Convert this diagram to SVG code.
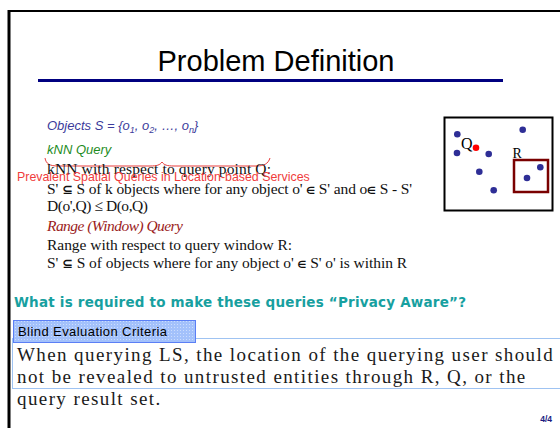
<svg xmlns="http://www.w3.org/2000/svg" width="560" height="428" viewBox="0 0 560 428">
  <style>
    .sans { font-family: "Liberation Sans", Arial, sans-serif; }
    .serif { font-family: "Liberation Serif", "Times New Roman", serif; }
    .body { font-family: "Liberation Serif", "Times New Roman", serif; font-size: 15.5px; fill: #111; }
    .sym { font-family: "DejaVu Sans", sans-serif; font-weight: bold; }
    .dot { fill: #2e2e96; }
    .big { font-family: "Liberation Serif", "Times New Roman", serif; font-size: 19px; fill: #1a1a1a; letter-spacing: 1.4px; }
  </style>
  <defs>
    <pattern id="grid" width="3" height="3" patternUnits="userSpaceOnUse">
      <rect width="3" height="3" fill="#a3c1fb"/>
      <rect width="1" height="1" fill="#ffffff" fill-opacity="0.45"/>
    </pattern>
  </defs>
  <rect width="560" height="428" fill="#ffffff"/>

  <g id="frame">
    <line x1="9" y1="10" x2="9" y2="428" stroke="#000" stroke-width="3"/>
    <line x1="8" y1="11" x2="560" y2="11" stroke="#000" stroke-width="2"/>
  </g>

  <g id="title">
    <text x="276" y="71" class="sans" font-size="29" text-anchor="middle" fill="#000">Problem Definition</text>
    <line x1="38" y1="80.5" x2="503" y2="80.5" stroke="#000080" stroke-width="3"/>
  </g>

  <g id="definitions">
    <text x="47" y="130" class="sans" font-size="13" font-style="italic" fill="#3b3b9b">Objects S = {o<tspan font-size="9" dy="3">1</tspan><tspan dy="-3">, o</tspan><tspan font-size="9" dy="3">2</tspan><tspan dy="-3">, …, o</tspan><tspan font-size="9" dy="3">n</tspan><tspan dy="-3">}</tspan></text>
    <text x="47" y="154" class="sans" font-size="13" font-style="italic" fill="#1e8c1e">kNN Query</text>
    <path d="M45,158 C46,164 50,166 58,166 L150,166 C157,166 160,165 162,162 C164,165 167,166 174,166 L256,166 C264,166 268,164 270,158" fill="none" stroke="#e83c3c" stroke-width="1"/>
    <text x="47" y="174" class="body" textLength="224" lengthAdjust="spacing">kNN with respect to query point Q:</text>
    <text x="17" y="181" class="sans" font-size="12.4" fill="#f03c3c">Prevalent Spatial Queries in Location-based Services</text>
    <text x="47" y="194" class="body" textLength="365" lengthAdjust="spacing">S' <tspan class="sym" font-size="13">⊆</tspan> S of k objects where for any object o' <tspan class="sym" font-size="10">∈</tspan> S' and o<tspan class="sym" font-size="10">∈</tspan> S - S'</text>
    <text x="47" y="211" class="body" textLength="101" lengthAdjust="spacing">D(o',Q) ≤ D(o,Q)</text>
    <text x="47" y="231" class="serif" font-size="15.5" font-style="italic" fill="#9b1c1c" textLength="136" lengthAdjust="spacing">Range (Window) Query</text>
    <text x="47" y="250" class="body" textLength="245" lengthAdjust="spacing">Range with respect to query window R:</text>
    <text x="47" y="268" class="body" textLength="360" lengthAdjust="spacing">S' <tspan class="sym" font-size="13">⊆</tspan> S of objects where for any object o' <tspan class="sym" font-size="10">∈</tspan> S' o' is within R</text>
  </g>

  <g id="figure">
    <rect x="444.5" y="117.5" width="108" height="93" fill="#fff" stroke="#000" stroke-width="2"/>
    <circle class="dot" cx="457.3" cy="134.3" r="3.3"/>
    <circle class="dot" cx="522.7" cy="129.7" r="3.3"/>
    <circle class="dot" cx="457" cy="153" r="3.3"/>
    <circle class="dot" cx="488.7" cy="154" r="3.3"/>
    <circle class="dot" cx="479.3" cy="171.7" r="3.3"/>
    <circle class="dot" cx="493.7" cy="190.3" r="3.3"/>
    <circle class="dot" cx="540.3" cy="167.3" r="3.3"/>
    <circle class="dot" cx="527" cy="178" r="3.3"/>
    <circle cx="476" cy="147.7" r="3.3" fill="#ff0000"/>
    <text x="461" y="149" class="serif" font-size="16" fill="#000">Q</text>
    <text x="512.5" y="158" class="serif" font-size="14" fill="#000">R</text>
    <rect x="514" y="160" width="34" height="32" fill="none" stroke="#7a0000" stroke-width="2.5"/>
  </g>

  <g id="question">
    <text x="14" y="307" font-family="'DejaVu Sans', Verdana, sans-serif" font-weight="bold" font-size="13.5" fill="#17a0a0" textLength="452" lengthAdjust="spacing">What is required to make these queries “Privacy Aware”?</text>
  </g>

  <g id="criteria">
    <rect x="12.5" y="338.5" width="560" height="50" fill="none" stroke="#9fc3f2" stroke-width="1"/>
    <rect x="13.5" y="320.5" width="182" height="22" fill="url(#grid)" stroke="#5b7ff5" stroke-width="1"/>
    <text x="18" y="336" class="sans" font-size="13" fill="#000" textLength="149" lengthAdjust="spacing">Blind Evaluation Criteria</text>
    <text x="17" y="361" class="big">When querying LS, the location of the querying user should</text>
    <text x="17" y="383" class="big">not be revealed to untrusted entities through R, Q, or the</text>
    <text x="17" y="405" class="big">query result set.</text>
  </g>

  <g id="page">
    <text x="552" y="422" class="sans" font-size="8.5" font-weight="bold" fill="#1a1a80" text-anchor="end">4/4</text>
  </g>
</svg>
